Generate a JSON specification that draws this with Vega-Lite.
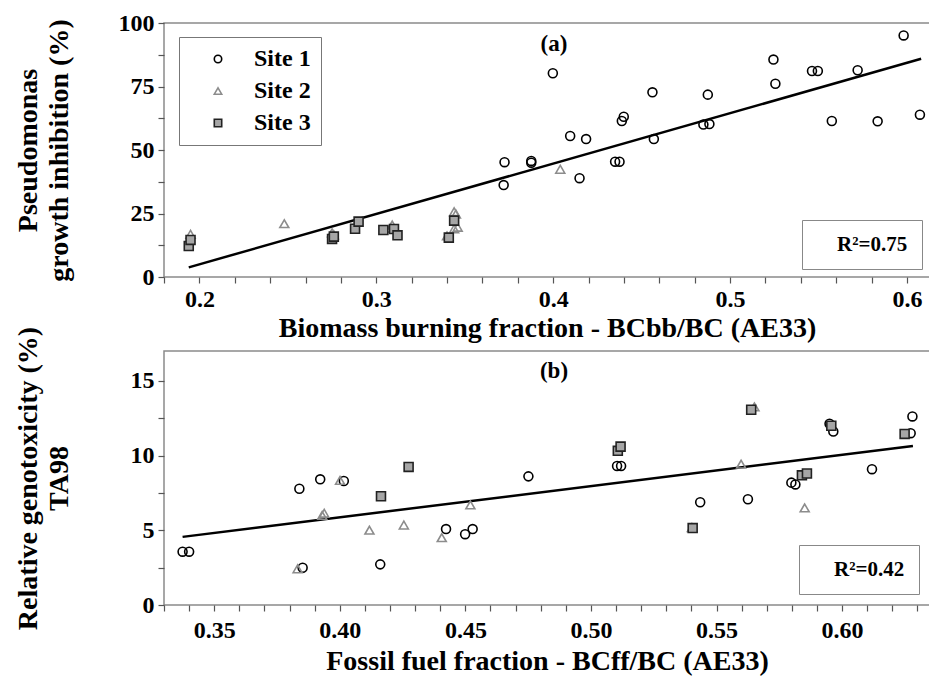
{
  "$schema": "https://vega.github.io/schema/vega-lite/v6.json",
  "autosize": {"type": "pad"},
  "padding": {"left": 13, "top": 10, "right": 0, "bottom": 0},
  "background": "white",
  "bounds": "flush",
  "spacing": 74,
  "config": {
    "font": "Liberation Serif, Times New Roman, serif",
    "view": {"stroke": "#8a8a8a", "strokeWidth": 1.5},
    "axis": {
      "labelFont": "Liberation Serif, Times New Roman, serif", "titleFont": "Liberation Serif, Times New Roman, serif",
      "labelFontWeight": "bold", "labelFontSize": 24, "labelColor": "black",
      "titleFontWeight": "bold", "titleFontSize": 28, "titleColor": "black",
      "tickColor": "#555", "tickSize": 6, "tickWidth": 1.2, "domain": false, "grid": false,
      "labelFlush": false, "labelOverlap": false, "labelPadding": 4, "labelSeparation": 0
    },
    "axisX": {"labelOverlap": false},
    "axisY": {"labelOverlap": false},
    "axisQuantitative": {"labelOverlap": false},
    "legend": {"labelFont": "Liberation Serif, Times New Roman, serif"},
    "title": {"font": "Liberation Serif, Times New Roman, serif"}
  },
  "datasets": {
    "pa": [
      {"x": 0.3725, "y": 45.2, "site": "Site 1"}, {"x": 0.372, "y": 36.2, "site": "Site 1"},
      {"x": 0.3876, "y": 45.7, "site": "Site 1"}, {"x": 0.3876, "y": 45.0, "site": "Site 1"},
      {"x": 0.3998, "y": 80.2, "site": "Site 1"}, {"x": 0.4096, "y": 55.5, "site": "Site 1"},
      {"x": 0.4186, "y": 54.3, "site": "Site 1"}, {"x": 0.4149, "y": 38.9, "site": "Site 1"},
      {"x": 0.435, "y": 45.4, "site": "Site 1"}, {"x": 0.4375, "y": 45.4, "site": "Site 1"},
      {"x": 0.4388, "y": 61.4, "site": "Site 1"}, {"x": 0.4399, "y": 63.1, "site": "Site 1"},
      {"x": 0.4561, "y": 72.7, "site": "Site 1"}, {"x": 0.4569, "y": 54.3, "site": "Site 1"},
      {"x": 0.4874, "y": 71.8, "site": "Site 1"}, {"x": 0.4849, "y": 60.0, "site": "Site 1"},
      {"x": 0.4883, "y": 60.2, "site": "Site 1"}, {"x": 0.5245, "y": 85.6, "site": "Site 1"},
      {"x": 0.5256, "y": 76.1, "site": "Site 1"}, {"x": 0.5463, "y": 81.1, "site": "Site 1"},
      {"x": 0.5496, "y": 81.1, "site": "Site 1"}, {"x": 0.5575, "y": 61.4, "site": "Site 1"},
      {"x": 0.5721, "y": 81.4, "site": "Site 1"}, {"x": 0.5834, "y": 61.3, "site": "Site 1"},
      {"x": 0.5981, "y": 95.1, "site": "Site 1"}, {"x": 0.6073, "y": 63.9, "site": "Site 1"},
      {"x": 0.195, "y": 16.8, "site": "Site 2"}, {"x": 0.248, "y": 21.0, "site": "Site 2"},
      {"x": 0.275, "y": 17.4, "site": "Site 2"}, {"x": 0.276, "y": 16.6, "site": "Site 2"},
      {"x": 0.309, "y": 20.5, "site": "Site 2"}, {"x": 0.308, "y": 19.2, "site": "Site 2"},
      {"x": 0.344, "y": 25.7, "site": "Site 2"}, {"x": 0.345, "y": 24.8, "site": "Site 2"},
      {"x": 0.344, "y": 19.0, "site": "Site 2"}, {"x": 0.346, "y": 19.6, "site": "Site 2"},
      {"x": 0.340, "y": 16.2, "site": "Site 2"}, {"x": 0.404, "y": 42.4, "site": "Site 2"},
      {"x": 0.194, "y": 12.2, "site": "Site 3"}, {"x": 0.195, "y": 14.6, "site": "Site 3"},
      {"x": 0.275, "y": 15.0, "site": "Site 3"}, {"x": 0.276, "y": 15.9, "site": "Site 3"},
      {"x": 0.288, "y": 19.0, "site": "Site 3"}, {"x": 0.290, "y": 21.8, "site": "Site 3"},
      {"x": 0.304, "y": 18.5, "site": "Site 3"}, {"x": 0.310, "y": 18.9, "site": "Site 3"},
      {"x": 0.312, "y": 16.4, "site": "Site 3"}, {"x": 0.341, "y": 15.5, "site": "Site 3"},
      {"x": 0.344, "y": 22.2, "site": "Site 3"}
    ],
    "pb": [
      {"x": 0.3374, "y": 3.57, "site": "Site 1"}, {"x": 0.34, "y": 3.57, "site": "Site 1"},
      {"x": 0.3839, "y": 7.78, "site": "Site 1"}, {"x": 0.3922, "y": 8.41, "site": "Site 1"},
      {"x": 0.4016, "y": 8.3, "site": "Site 1"}, {"x": 0.3852, "y": 2.49, "site": "Site 1"},
      {"x": 0.4161, "y": 2.72, "site": "Site 1"}, {"x": 0.4423, "y": 5.08, "site": "Site 1"},
      {"x": 0.4499, "y": 4.74, "site": "Site 1"}, {"x": 0.4529, "y": 5.08, "site": "Site 1"},
      {"x": 0.4751, "y": 8.61, "site": "Site 1"}, {"x": 0.5104, "y": 9.31, "site": "Site 1"},
      {"x": 0.512, "y": 9.31, "site": "Site 1"}, {"x": 0.5435, "y": 6.88, "site": "Site 1"},
      {"x": 0.5625, "y": 7.08, "site": "Site 1"}, {"x": 0.5798, "y": 8.19, "site": "Site 1"},
      {"x": 0.5814, "y": 8.07, "site": "Site 1"}, {"x": 0.595, "y": 12.13, "site": "Site 1"},
      {"x": 0.5965, "y": 11.61, "site": "Site 1"}, {"x": 0.6119, "y": 9.09, "site": "Site 1"},
      {"x": 0.628, "y": 12.62, "site": "Site 1"}, {"x": 0.6273, "y": 11.5, "site": "Site 1"},
      {"x": 0.3832, "y": 2.42, "site": "Site 2"}, {"x": 0.3938, "y": 6.14, "site": "Site 2"},
      {"x": 0.393, "y": 6.0, "site": "Site 2"}, {"x": 0.4001, "y": 8.34, "site": "Site 2"},
      {"x": 0.4118, "y": 5.01, "site": "Site 2"}, {"x": 0.4255, "y": 5.35, "site": "Site 2"},
      {"x": 0.4406, "y": 4.51, "site": "Site 2"}, {"x": 0.452, "y": 6.7, "site": "Site 2"},
      {"x": 0.5651, "y": 13.26, "site": "Site 2"}, {"x": 0.5598, "y": 9.43, "site": "Site 2"},
      {"x": 0.5402, "y": 5.19, "site": "Site 2"}, {"x": 0.5851, "y": 6.5, "site": "Site 2"},
      {"x": 0.4164, "y": 7.28, "site": "Site 3"}, {"x": 0.4274, "y": 9.24, "site": "Site 3"},
      {"x": 0.5107, "y": 10.32, "site": "Site 3"}, {"x": 0.5118, "y": 10.6, "site": "Site 3"},
      {"x": 0.5638, "y": 13.07, "site": "Site 3"}, {"x": 0.584, "y": 8.68, "site": "Site 3"},
      {"x": 0.586, "y": 8.8, "site": "Site 3"}, {"x": 0.5957, "y": 12.0, "site": "Site 3"},
      {"x": 0.6249, "y": 11.45, "site": "Site 3"}, {"x": 0.5405, "y": 5.15, "site": "Site 3"}
    ],
    "la": [{"x": 0.194, "y": 3.8, "fit": "R²=0.75"}, {"x": 0.608, "y": 85.9, "fit": "R²=0.75"}],
    "lb": [{"x": 0.3374, "y": 4.56, "fit": "R²=0.42"}, {"x": 0.6282, "y": 10.64, "fit": "R²=0.42"}]
  },
  "resolve": {
    "scale": {"opacity": "independent"},
    "legend": {"shape": "independent", "stroke": "independent", "fill": "independent", "opacity": "independent"}
  },
  "vconcat": [
    {
      "width": 766, "height": 254,
      "title": {"text": "(a)", "anchor": "middle", "offset": -45, "dx": 7, "fontSize": 23, "fontWeight": "bold", "color": "black",
        "font": "Liberation Serif, Times New Roman, serif"},
      "encoding": {
        "x": {"field": "x", "type": "quantitative",
          "scale": {"domain": [0.18, 0.613], "nice": false, "zero": false},
          "axis": {"values": [0.18,0.2,0.22,0.24,0.26,0.28,0.3,0.32,0.34,0.36,0.38,0.4,0.42,0.44,0.46,0.48,0.5,0.52,0.54,0.56,0.58,0.6],
            "labelExpr": "abs(datum.value*10 - round(datum.value*10)) < 0.001 ? format(datum.value, '.1f') : ''",
            "labelOverlap": false,
            "labelFont": "Liberation Serif, Times New Roman, serif", "titleFont": "Liberation Serif, Times New Roman, serif",
            "encode": {"labels": {"update": {"font": {"value": "Liberation Serif, Times New Roman, serif"}}},
                       "title": {"update": {"font": {"value": "Liberation Serif, Times New Roman, serif"}}}},
            "title": "Biomass burning fraction - BCbb/BC (AE33)", "titlePadding": 3}},
        "y": {"field": "y", "type": "quantitative",
          "scale": {"domain": [0, 100], "nice": false},
          "axis": {"values": [0,12.5,25,37.5,50,62.5,75,87.5,100],
            "labelExpr": "datum.value % 25 == 0 ? format(datum.value, 'd') : ''",
            "labelOverlap": false,
            "labelFont": "Liberation Serif, Times New Roman, serif", "titleFont": "Liberation Serif, Times New Roman, serif",
            "encode": {"labels": {"update": {"font": {"value": "Liberation Serif, Times New Roman, serif"}}},
                       "title": {"update": {"font": {"value": "Liberation Serif, Times New Roman, serif"}}}},
            "title": ["Pseudomonas", "growth inhibition (%)"], "titleLineHeight": 31, "titlePadding": 45}}
      },
      "layer": [
        {
          "data": {"name": "la"},
          "mark": {"type": "line", "color": "black", "strokeWidth": 2.5},
          "encoding": {
            "opacity": {"field": "fit", "type": "nominal", "scale": {"range": [1]},
              "legend": {"title": null, "orient": "bottom-right", "offset": 8,
                "fillColor": "white", "strokeColor": "#888", "padding": 14,
                "labelFont": "Liberation Serif, Times New Roman, serif",
                "labelFontSize": 21, "labelFontWeight": "bold", "labelColor": "black",
                "symbolSize": 0, "symbolOpacity": 0, "symbolStrokeWidth": 0, "symbolOffset": 0, "labelOffset": 0}}
          }
        },
        {
          "data": {"name": "pa"},
          "mark": {"type": "point", "size": 80, "strokeWidth": 1.6, "opacity": 1},
          "encoding": {
            "shape": {"field": "site", "type": "nominal",
              "scale": {"domain": ["Site 1","Site 2","Site 3"], "range": ["circle","triangle-up","square"]},
              "legend": {"title": null, "orient": "none", "legendX": 15, "legendY": 14,
                "fillColor": "white", "strokeColor": "#777", "padding": 10,
                "labelFont": "Liberation Serif, Times New Roman, serif",
                "labelFontSize": 24, "labelFontWeight": "bold", "labelColor": "black",
                "symbolSize": 55, "symbolStrokeWidth": 1.6, "symbolOffset": 17, "labelOffset": 24, "rowPadding": 8}},
            "stroke": {"field": "site", "type": "nominal",
              "scale": {"domain": ["Site 1","Site 2","Site 3"], "range": ["black","#8c8c8c","#222222"]}},
            "fill": {"field": "site", "type": "nominal",
              "scale": {"domain": ["Site 1","Site 2","Site 3"], "range": ["transparent","transparent","#a6a6a6"]}}
          }
        }
      ]
    },
    {
      "width": 766, "height": 254,
      "title": {"text": "(b)", "anchor": "middle", "offset": -57, "dx": 7, "fontSize": 23, "fontWeight": "bold", "color": "black",
        "font": "Liberation Serif, Times New Roman, serif"},
      "encoding": {
        "x": {"field": "x", "type": "quantitative",
          "scale": {"domain": [0.33, 0.635], "nice": false, "zero": false},
          "axis": {"values": [0.33,0.34,0.35,0.36,0.37,0.38,0.39,0.4,0.41,0.42,0.43,0.44,0.45,0.46,0.47,0.48,0.49,0.5,0.51,0.52,0.53,0.54,0.55,0.56,0.57,0.58,0.59,0.6,0.61,0.62,0.63],
            "labelExpr": "abs(datum.value*20 - round(datum.value*20)) < 0.001 ? format(datum.value, '.2f') : ''",
            "labelOverlap": false,
            "labelFont": "Liberation Serif, Times New Roman, serif", "titleFont": "Liberation Serif, Times New Roman, serif",
            "encode": {"labels": {"update": {"font": {"value": "Liberation Serif, Times New Roman, serif"}}},
                       "title": {"update": {"font": {"value": "Liberation Serif, Times New Roman, serif"}}}},
            "labelPadding": 7,
            "title": "Fossil fuel fraction - BCff/BC (AE33)", "titlePadding": 5}},
        "y": {"field": "y", "type": "quantitative",
          "scale": {"domain": [0, 17], "nice": false},
          "axis": {"values": [0,2.5,5,7.5,10,12.5,15],
            "labelExpr": "datum.value % 5 == 0 ? format(datum.value, 'd') : ''",
            "labelOverlap": false,
            "labelFont": "Liberation Serif, Times New Roman, serif", "titleFont": "Liberation Serif, Times New Roman, serif",
            "encode": {"labels": {"update": {"font": {"value": "Liberation Serif, Times New Roman, serif"}}},
                       "title": {"update": {"font": {"value": "Liberation Serif, Times New Roman, serif"}}}},
            "title": ["Relative genotoxicity (%)", "TA98"], "titleLineHeight": 31, "titlePadding": 57}}
      },
      "layer": [
        {
          "data": {"name": "lb"},
          "mark": {"type": "line", "color": "black", "strokeWidth": 2.5},
          "encoding": {
            "opacity": {"field": "fit", "type": "nominal", "scale": {"range": [1]},
              "legend": {"title": null, "orient": "bottom-right", "offset": 11,
                "fillColor": "white", "strokeColor": "#888", "padding": 14,
                "labelFont": "Liberation Serif, Times New Roman, serif",
                "labelFontSize": 21, "labelFontWeight": "bold", "labelColor": "black",
                "symbolSize": 0, "symbolOpacity": 0, "symbolStrokeWidth": 0, "symbolOffset": 0, "labelOffset": 0}}
          }
        },
        {
          "data": {"name": "pb"},
          "mark": {"type": "point", "size": 80, "strokeWidth": 1.6, "opacity": 1},
          "encoding": {
            "shape": {"field": "site", "type": "nominal",
              "scale": {"domain": ["Site 1","Site 2","Site 3"], "range": ["circle","triangle-up","square"]}, "legend": null},
            "stroke": {"field": "site", "type": "nominal",
              "scale": {"domain": ["Site 1","Site 2","Site 3"], "range": ["black","#8c8c8c","#222222"]}, "legend": null},
            "fill": {"field": "site", "type": "nominal",
              "scale": {"domain": ["Site 1","Site 2","Site 3"], "range": ["transparent","transparent","#a6a6a6"]}, "legend": null}
          }
        }
      ]
    }
  ]
}
